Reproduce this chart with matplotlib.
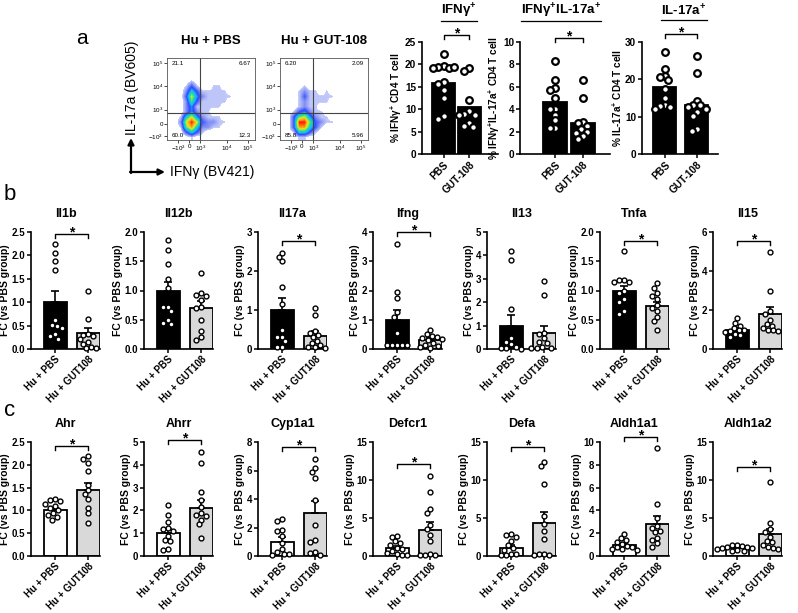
import numpy as np
import matplotlib
matplotlib.use('Agg')
import matplotlib.pyplot as plt
from matplotlib.colors import LinearSegmentedColormap

plt.rcParams['font.family'] = ['Liberation Sans', 'DejaVu Sans']
plt.rcParams['mathtext.fontset'] = 'custom'
plt.rcParams['mathtext.rm'] = 'Liberation Sans'
plt.rcParams['mathtext.bf'] = 'Liberation Sans:bold'
plt.rcParams['mathtext.it'] = 'Liberation Sans:italic'

W, H = 798, 613

# ---- panel a: flow dot plots (coarse event density, rows top -> bottom) ----
flow_titles = ['Hu + PBS', 'Hu + GUT-108']
flow_quadrants = [['21.1', '6.67', '60.0', '12.3'],
                  ['6.20', '2.09', '85.8', '5.96']]
flow_xticklabels = ['$-10^3$', '0', '$10^3$', '$10^4$', '$10^5$']
flow_yticklabels = ['$-10^3$', '0', '$10^3$', '$10^4$', '$10^5$']
flow_pbs = [
    "0000000000000000",
    "0000000000000000",
    "0000000000000000",
    "0000000000000000",
    "0000100000000000",
    "0001310011000000",
    "0002531111100000",
    "0003742111110000",
    "0002631111100000",
    "0002411111000000",
    "0002421100000000",
    "0015742111000000",
    "0027973221100000",
    "0016852211000000",
    "0003531000000000",
    "0000100000000000",
]
flow_gut = [
    "0000000000000000",
    "0000000000000000",
    "0000000000000000",
    "0000000000000000",
    "0000000000000000",
    "0000100000000000",
    "0001211010000000",
    "0001311111000000",
    "0001211110000000",
    "0001211000000000",
    "0013421100000000",
    "0036742110000000",
    "0039963211000000",
    "0038853100000000",
    "0015531000000000",
    "0001100000000000",
]

# ---- panel a: bar charts ----
a_titles = ['IFNγ$^{\\mathbf{+}}$', 'IFNγ$^{\\mathbf{+}}$IL-17a$^{\\mathbf{+}}$', 'IL-17a$^{\\mathbf{+}}$']
a_ylabels = ['% IFNγ$^{\\mathbf{+}}$ CD4 T cell',
             '% IFNγ$^{\\mathbf{+}}$IL-17a$^{\\mathbf{+}}$ CD4 T cell',
             '% IL-17a$^{\\mathbf{+}}$ CD4 T cell']
a_groups = ['PBS', 'GUT-108']
a_pbs = [[22.4, 19.6, 19.4, 19.2, 19.3, 19.5, 16.1, 15.6, 14.2, 12.6, 8.5, 7.9],
         [8.3, 6.6, 5.9, 5.7, 5.0, 4.0, 4.0, 3.5, 3.0, 2.3, 2.3],
         [27.4, 22.7, 21.0, 20.7, 19.8, 17.4, 15.0, 13.0, 12.8, 12.7, 12.0]]
a_gut = [[19.2, 18.5, 12.0, 9.5, 9.0, 8.8, 8.6, 7.0, 6.2, 6.0],
         [6.6, 5.0, 2.9, 2.8, 2.5, 2.2, 2.0, 1.9, 1.6, 1.3],
         [26.2, 21.8, 14.3, 13.2, 13.0, 12.5, 12.0, 11.3, 10.2, 6.8, 6.2]]
a_means = [[15.8, 10.5], [4.6, 2.8], [17.9, 13.0]]
a_ymax = [25, 10, 30]
a_ystep = [5, 2, 10]
a_sig = [26.5, 10.4, 32.2]

# ---- panel b: cytokine qPCR ----
b_genes = ['Il1b', 'Il12b', 'Il17a', 'Ifng', 'Il13', 'Tnfa', 'Il15']
b_pbs = [[2.25, 2.05, 1.88, 1.68, 0.62, 0.52, 0.50, 0.45, 0.32, 0.28, 0.22],
         [1.87, 1.70, 1.45, 1.20, 1.05, 0.72, 0.72, 0.65, 0.50, 0.45, 0.43],
         [2.45, 2.35, 2.25, 1.58, 1.15, 0.50, 0.30, 0.30, 0.20, 0.05, 0.05],
         [3.6, 1.95, 1.75, 1.25, 1.1, 0.55, 0.15, 0.15, 0.15, 0.15, 0.15],
         [4.2, 3.8, 1.7, 0.45, 0.3, 0.2, 0.1, 0.05, 0.05, 0.02],
         [1.67, 1.18, 1.18, 1.15, 1.15, 1.0, 0.95, 0.85, 0.8, 0.65, 0.6],
         [1.6, 1.35, 1.2, 1.1, 1.0, 0.95, 0.9, 0.85, 0.75, 0.7, 0.6]]
b_gut = [[1.24, 0.64, 0.32, 0.30, 0.28, 0.22, 0.15, 0.10, 0.05, 0.03, 0.02],
         [1.30, 0.95, 0.93, 0.90, 0.83, 0.72, 0.70, 0.50, 0.30, 0.20, 0.15],
         [1.05, 0.88, 0.45, 0.40, 0.35, 0.30, 0.20, 0.15, 0.10, 0.05, 0.05, 0.03],
         [0.65, 0.5, 0.45, 0.4, 0.38, 0.35, 0.3, 0.2, 0.15, 0.1, 0.08, 0.05],
         [2.92, 2.32, 0.7, 0.65, 0.45, 0.3, 0.25, 0.1, 0.05, 0.05, 0.05],
         [1.12, 1.05, 0.95, 0.9, 0.85, 0.75, 0.7, 0.65, 0.55, 0.48, 0.33],
         [4.95, 3.0, 1.95, 1.8, 1.5, 1.3, 1.2, 1.1, 1.0, 0.95, 0.9]]
b_means = [[1.0, 0.34], [1.0, 0.70], [1.0, 0.33], [1.0, 0.30], [1.0, 0.67], [1.0, 0.74], [1.0, 1.78]]
b_tops = [[1.24, 0.44], [1.15, 0.82], [1.3, 0.45], [1.35, 0.38], [1.47, 1.0], [1.07, 0.81], [1.1, 2.15]]
b_ymax = [2.5, 2.0, 3, 4, 5, 2.0, 6]
b_ystep = [0.5, 0.5, 1, 1, 1, 0.5, 2]
b_sig = [2.45, None, 2.76, 4.0, None, 1.84, 5.52]

# ---- panel c: AhR / epithelial genes ----
c_genes = ['Ahr', 'Ahrr', 'Cyp1a1', 'Defcr1', 'Defa', 'Aldh1a1', 'Aldh1a2']
c_pbs = [[1.25, 1.22, 1.2, 1.15, 1.1, 1.05, 1.0, 0.95, 0.9, 0.85, 0.8],
         [2.22, 1.8, 1.5, 1.25, 1.2, 1.1, 0.88, 0.7, 0.65, 0.32, 0.27],
         [2.6, 2.45, 1.8, 1.75, 1.4, 0.9, 0.5, 0.27, 0.15, 0.12, 0.1],
         [2.6, 2.5, 1.95, 1.7, 1.5, 1.1, 0.9, 0.65, 0.45, 0.2, 0.15, 0.1],
         [2.9, 2.7, 2.5, 2.0, 1.4, 1.1, 0.8, 0.3, 0.2, 0.15, 0.1],
         [1.95, 1.55, 1.4, 1.2, 1.05, 0.9, 0.8, 0.75, 0.65, 0.6, 0.55],
         [1.5, 1.4, 1.3, 1.25, 1.2, 1.1, 1.0, 0.9, 0.8, 0.7, 0.65]]
c_gut = [[2.2, 2.12, 2.04, 1.87, 1.55, 1.44, 1.35, 1.26, 1.06, 0.94, 0.73],
         [4.57, 4.07, 2.79, 2.46, 2.17, 1.89, 1.81, 1.74, 1.6, 1.39, 0.79],
         [6.8, 6.2, 5.9, 5.45, 3.9, 2.2, 1.1, 1.0, 0.27, 0.2, 0.1],
         [10.5, 8.4, 6.2, 5.6, 4.1, 3.5, 2.8, 1.95, 0.2, 0.15, 0.1, 0.1],
         [12.4, 11.8, 9.5, 5.2, 4.2, 3.3, 2.2, 0.3, 0.2, 0.15, 0.1],
         [9.45, 4.6, 3.3, 2.6, 2.5, 2.2, 2.1, 1.6, 1.4, 1.1, 0.8],
         [9.7, 4.3, 3.5, 3.1, 2.5, 2.0, 1.8, 1.4, 1.2, 1.1, 0.95]]
c_means = [[1.0, 1.44], [1.0, 2.1], [1.0, 3.05], [1.0, 3.45], [1.0, 4.3], [1.0, 2.8], [1.0, 2.85]]
c_tops = [[1.05, 1.6], [1.17, 2.47], [1.3, 3.85], [1.3, 4.5], [1.45, 5.8], [1.12, 3.55], [1.1, 3.6]]
c_ymax = [2.5, 5, 8, 15, 15, 10, 15]
c_ystep = [0.5, 1, 2, 5, 5, 2, 5]
c_sig = [2.42, 5.1, 7.63, 12.1, 14.3, 10.4, 11.75]

bc_groups = ['Hu + PBS', 'Hu + GUT108']
ylab_fc = 'FC (vs PBS group)'


fig = plt.figure(figsize=(W / 100, H / 100), dpi=100)


def px_axes(x0, y0, x1, y1):
    return fig.add_axes([x0 / W, 1 - y1 / H, (x1 - x0) / W, (y1 - y0) / H])


def px_scale(ax):
    bb = ax.get_position()
    xa, xb = ax.get_xlim()
    ya, yb = ax.get_ylim()
    return bb.width * W / (xb - xa), bb.height * H / (yb - ya)


def swarm_x(ax, vals, d_px):
    """greedy beeswarm offsets (data units) so markers of d_px don't overlap"""
    sx, sy = px_scale(ax)
    steps = [0.0]
    for k in range(1, 40):
        steps += [-k * d_px / 3, k * d_px / 3]
    placed, out = [], []
    for v in vals:
        y = v * sy
        for s in steps:
            if all((s - px) ** 2 + (y - py) ** 2 >= d_px ** 2 for px, py in placed):
                break
        placed.append((s, y))
        out.append(s / sx)
    return np.array(out)


def style_axes(ax, fs, xpad):
    for sp in ('top', 'right'):
        ax.spines[sp].set_visible(False)
    for sp in ('left', 'bottom'):
        ax.spines[sp].set_linewidth(1.2)
    ax.tick_params(width=1.1, length=3, labelsize=fs, pad=1.2)
    ax.tick_params(axis='x', pad=xpad)
    for lbl in ax.get_yticklabels():
        lbl.set_fontweight('bold')


def bar_panel(ax, pbs, gut, means, tops, ymax, ystep, sig, colors, xl, bw,
              d_px, ms, mew, groups, tfs, yfs, xpad=1.2):
    ax.set_xlim(*xl)
    ax.set_ylim(0, ymax)
    ax.set_yticks(np.arange(0, ymax + ystep / 2, ystep))
    ax.bar([0, 1], means, width=bw, color=colors, edgecolor='k', linewidth=1.3, zorder=1)
    if tops is not None:
        for i in range(2):
            ax.errorbar(i, means[i], yerr=[[0], [tops[i] - means[i]]], fmt='none',
                        ecolor='k', elinewidth=1.2, capsize=3.2, capthick=1.2, zorder=2)
    for i, vals in enumerate((pbs, gut)):
        xs = i + swarm_x(ax, vals, d_px)
        ax.plot(xs, vals, 'o', ms=ms, mfc='white', mec='k', mew=mew, zorder=3, clip_on=False)
    if sig is not None:
        sx, sy = px_scale(ax)
        tip = 4 / sy
        ax.plot([0, 0, 1, 1], [sig - tip, sig, sig, sig - tip], color='k', lw=1.0,
                clip_on=False, zorder=4)
        ax.text(0.5, sig - 2.5 / sy, '*', ha='center', va='baseline', fontsize=10,
                fontweight='bold', clip_on=False)
    ax.set_xticks([0, 1])
    ax.set_xticklabels(groups, rotation=45, ha='right', rotation_mode='anchor',
                       fontsize=tfs, fontweight='bold')
    style_axes(ax, yfs, xpad)


# overlay in pixel coordinates for free text and arrows
ov = fig.add_axes([0, 0, 1, 1], zorder=10)
ov.set_xlim(0, W)
ov.set_ylim(H, 0)
ov.axis('off')

# ---- panel a ----
ov.text(82, 38, 'a', fontsize=15, ha='center', va='center')
cmap = LinearSegmentedColormap.from_list('flow', [
    (0.0, '#c9d0fb'), (0.12, '#8d9af5'), (0.3, '#3049ff'), (0.45, '#10b8ff'),
    (0.6, '#2fdc8a'), (0.75, '#d8ec2a'), (0.88, '#ff9a10'), (1.0, '#ff1a10')])
cmap.set_under('white')
flow_boxes = [(167, 58, 255, 140), (280, 58, 368, 140)]
for k, grid in enumerate((flow_pbs, flow_gut)):
    x0, y0, x1, y1 = flow_boxes[k]
    ax = px_axes(x0, y0, x1, y1)
    dens = np.array([[int(c) for c in row] for row in grid], dtype=float)
    ax.imshow(dens, extent=(0, 1, 0, 1), cmap=cmap, vmin=0.8, vmax=9,
              interpolation='bilinear', aspect='auto')
    ax.axvline(0.38, color='#444444', lw=0.8)
    ax.axhline(0.335, color='#444444', lw=0.8)
    ax.set_xlim(0, 1)
    ax.set_ylim(0, 1)
    ax.set_xticks([0.125, 0.25, 0.38, 0.68, 0.92])
    ax.set_xticklabels(flow_xticklabels)
    ax.set_yticks([0.05, 0.19, 0.37, 0.66, 0.94])
    ax.set_yticklabels(flow_yticklabels)
    ax.tick_params(labelsize=4.5, length=2, width=0.5, pad=1)
    for sp in ax.spines.values():
        sp.set_linewidth(0.6)
        sp.set_color('#555555')
    q = flow_quadrants[k]
    ax.text(0.05, 0.93, q[0], fontsize=4.5, va='center')
    ax.text(0.95, 0.93, q[1], fontsize=4.5, va='center', ha='right')
    ax.text(0.05, 0.06, q[2], fontsize=4.5, va='center')
    ax.text(0.95, 0.06, q[3], fontsize=4.5, va='center', ha='right')
    ov.text((x0 + x1) / 2, 41, flow_titles[k], fontsize=9.5, fontweight='bold',
            ha='center', va='center')

ov.text(132, 88, 'IL-17a (BV605)', rotation=90, fontsize=10, ha='center', va='center')
ov.annotate('', xy=(131, 138), xytext=(131, 173),
            arrowprops=dict(arrowstyle='-|>', lw=1.6, color='k', mutation_scale=9,
                            shrinkA=0, shrinkB=0))
ov.annotate('', xy=(165, 172), xytext=(130, 172),
            arrowprops=dict(arrowstyle='-|>', lw=1.6, color='k', mutation_scale=9,
                            shrinkA=0, shrinkB=0))
ov.text(170, 172, 'IFNγ (BV421)', fontsize=10, ha='left', va='center')

a_spans = [(422, 498), (520, 610), (642, 718)]
a_xlims = [(-0.83, 2.1), (-1.25, 1.96), (-0.72, 1.66)]
a_bws = [0.88, 0.86, 0.72]
a_title_x = [459, 561, 684]
a_title_objs = []
for k in range(3):
    ax = px_axes(a_spans[k][0], 42, a_spans[k][1], 154)
    bar_panel(ax, a_pbs[k], a_gut[k], a_means[k], None, a_ymax[k], a_ystep[k], a_sig[k],
              ['k', 'k'], a_xlims[k], a_bws[k], 5.2, 4.8, 1.6, a_groups, 8.5, 7.2)
    ax.set_ylabel(a_ylabels[k], fontsize=7.2, fontweight='bold', labelpad=1)
    t = ov.text(a_title_x[k], 11, a_titles[k], fontsize=9.5, fontweight='bold',
                ha='center', va='center')
    a_title_objs.append(t)

# ---- panels b and c ----
ov.text(10, 195, 'b', fontsize=16, ha='center', va='center')
ov.text(10, 411, 'c', fontsize=16, ha='center', va='center')
bc_left = [31, 144, 258, 373, 487, 600, 713]
rows = [
    (232, 349, b_genes, b_pbs, b_gut, b_means, b_tops, b_ymax, b_ystep, b_sig,
     ['k', '#d9d9d9']),
    (442, 556, c_genes, c_pbs, c_gut, c_means, c_tops, c_ymax, c_ystep, c_sig,
     ['white', '#d9d9d9']),
]
for (ytop, ybot, genes, pbs, gut, means, tops, ymax, ystep, sig, cols) in rows:
    for k in range(7):
        ax = px_axes(bc_left[k], ytop, bc_left[k] + 69, ybot)
        bar_panel(ax, pbs[k], gut[k], means[k], tops[k], ymax[k], ystep[k], sig[k],
                  cols, (-0.73, 1.36), 0.7, 5.0, 3.5, 1.0, bc_groups, 5.5, 7, xpad=0.6)
        ax.set_ylabel(ylab_fc, fontsize=7.5, fontweight='bold', labelpad=1)
        ax.set_title(genes[k], fontsize=9, fontweight='bold', pad=11)

# underline the panel a headers
fig.canvas.draw()
inv = ov.transData.inverted()
for t in a_title_objs:
    bb = t.get_window_extent()
    (xa, ya), (xb, yb) = inv.transform([[bb.x0, bb.y0], [bb.x1, bb.y1]])
    ov.plot([xa, xb], [ya + 1, ya + 1], color='k', lw=0.9)

fig.savefig('out.png', dpi=100)
